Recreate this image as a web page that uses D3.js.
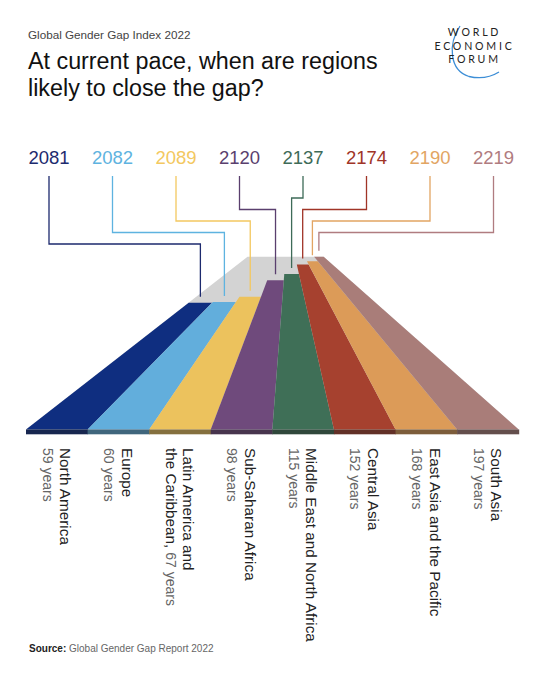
<!DOCTYPE html>
<html><head><meta charset="utf-8">
<script src="https://cdn.jsdelivr.net/npm/d3@7"></script>
<style>body{margin:0;background:#fff}svg{display:block}</style>
</head><body><svg id="c" width="544" height="680"></svg>
<script>
// ---- data ----
const regions = ["North America","Europe","Latin America and|the Caribbean,","Sub-Saharan Africa","Middle East and North Africa","Central Asia","East Asia and the Pacific","South Asia"];
const yearsToClose = [59,60,67,98,115,152,168,197];
const closeYears = [2081,2082,2089,2120,2137,2174,2190,2219];
const bandColors = ["#0f2e80","#62aedc","#ecc25d","#6f4a7c","#3f6f57","#a6412f","#dc9b58","#a97d79"];
const labelColors = ["#1d2a6e","#5eb3e0","#f3c860","#5a3f6e","#3e6b58","#a03427","#e2a563","#b07c80"];

// ---- layout ----
const font = "'Liberation Sans', Arial, Helvetica, sans-serif";
const svg = d3.select("#c");
const n = regions.length;
const bottomY = 429.5, baseH = 4.8, horizonY = 225.3, vanishX = 288, D = 36;

const x = d3.scaleBand().domain(d3.range(n)).range([26, 518.7]).padding(0);
const bw = x.bandwidth();
const fy = d3.scaleLinear().domain([0, 1]).range([horizonY, bottomY]);
const persp = d => D / (D + d);
const proj = (xb, d) => { const f = persp(d); return [vanishX + (xb - vanishX) * f, fy(f)]; };
const xl = d3.scalePoint().domain(d3.range(n)).range([49, 493.5]);
const line = d3.line();

// road
const maxD = d3.max(yearsToClose);
const [r0, r1] = x.range();
svg.append("path")
  .attr("d", line([proj(r0,0), proj(r1,0), proj(r1,maxD), proj(r0,maxD)]) + "Z")
  .attr("fill", "#d3d3d3");

// bands
svg.selectAll("path.band").data(yearsToClose).join("path")
  .attr("class","band")
  .attr("d", (d,i) => line([proj(x(i),0), proj(x(i)+bw,0), proj(x(i)+bw,d), proj(x(i),d)]) + "Z")
  .attr("fill", (d,i) => bandColors[i]);

// base strip
svg.selectAll("rect.base").data(yearsToClose).join("rect")
  .attr("class","base")
  .attr("x", (d,i) => x(i)).attr("y", bottomY)
  .attr("width", bw + 0.5).attr("height", baseH)
  .attr("fill", (d,i) => d3.interpolateRgb(bandColors[i], "#1e1e1e")(0.5));

// leader lines
svg.selectAll("path.lead").data(yearsToClose).join("path")
  .attr("class","lead")
  .attr("d", (d,i) => {
    const [cx, cy] = proj(x(i) + bw/2, d);
    const ey = 198 + 11.5 * Math.abs(i - 4);
    return line([[xl(i),176],[xl(i),ey],[cx,ey],[cx,cy-6]]);
  })
  .attr("fill","none")
  .attr("stroke", (d,i) => labelColors[i])
  .attr("stroke-width", 1.3);

// year labels
svg.selectAll("text.year").data(closeYears).join("text")
  .attr("class","year")
  .attr("x", (d,i) => xl(i)).attr("y", 164)
  .attr("text-anchor","middle")
  .attr("font-family", font).attr("font-size", 18.5)
  .attr("fill", (d,i) => labelColors[i])
  .text(d => d);

// rotated region labels
regions.forEach((name, i) => {
  const g = svg.append("g").attr("transform", `translate(${x(i)+34},448) rotate(90)`);
  const t = g.append("text").attr("font-family", font);
  const parts = name.split("|");
  parts.forEach((p, j) => {
    t.append("tspan").attr("x", 0).attr("dy", j === 0 ? 0 : 17.5)
      .attr("font-size", 15.3).attr("fill", "#222").text(p);
  });
  const yrs = yearsToClose[i] + " years";
  if (parts.length > 1) {
    t.append("tspan").attr("font-size", 14).attr("fill", "#666").text(" " + yrs);
  } else {
    t.append("tspan").attr("x", 0).attr("dy", 17.5).attr("font-size", 14).attr("fill", "#666").text(yrs);
  }
});

// header
svg.append("text").attr("x", 28).attr("y", 38.5)
  .attr("font-family", font).attr("font-size", 11.7).attr("fill", "#444")
  .text("Global Gender Gap Index 2022");
const title = svg.append("text").attr("font-family", font).attr("font-size", 23.3).attr("fill", "#111");
title.append("tspan").attr("x", 28).attr("y", 68.5).text("At current pace, when are regions");
title.append("tspan").attr("x", 28).attr("y", 95.5).text("likely to close the gap?");

// logo
const logo = svg.append("g");
logo.append("path")
  .attr("d", "M460,26 C448,44 449,70 469,76.5 C480,79 491,77 499,72")
  .attr("fill","none").attr("stroke","#3d8ed6").attr("stroke-width",1.3);
[["WORLD",35.7],["ECONOMIC",50],["FORUM",63.3]].forEach(([w,y]) => {
  logo.append("text").attr("x", 474.5).attr("y", y).attr("text-anchor","middle")
    .attr("font-family","Lato, 'DejaVu Sans', sans-serif").attr("font-size",10.6)
    .attr("letter-spacing", 2.8).attr("fill","#222").text(w);
});

// source
const src = svg.append("text").attr("x", 29).attr("y", 652.3)
  .attr("font-family", font).attr("font-size", 10);
src.append("tspan").attr("font-weight","bold").attr("fill","#222").text("Source:");
src.append("tspan").attr("fill","#666").text(" Global Gender Gap Report 2022");
</script>
</body></html>
